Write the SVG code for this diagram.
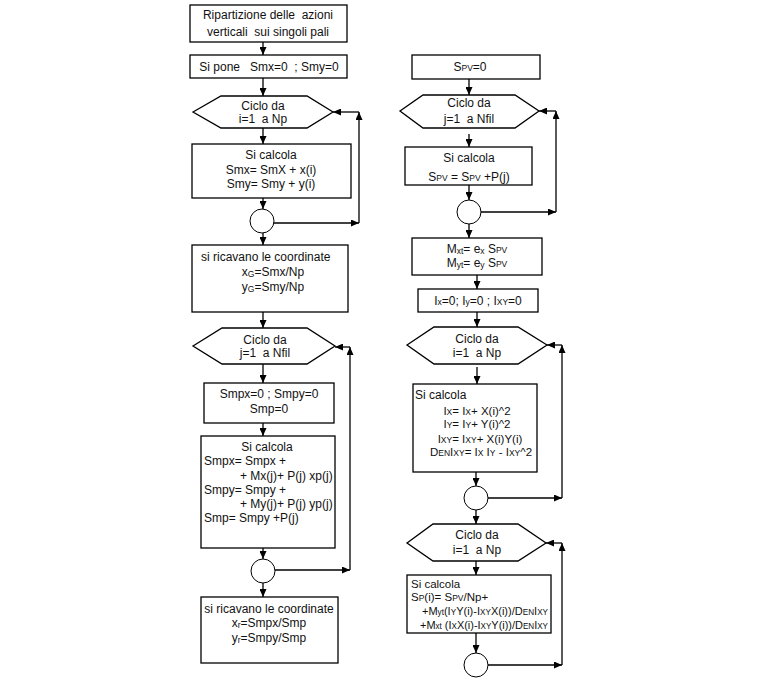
<svg xmlns="http://www.w3.org/2000/svg" width="782" height="689" viewBox="0 0 782 689" xml:space="preserve">
<defs>
<marker id="ah" markerUnits="userSpaceOnUse" markerWidth="8" markerHeight="7" refX="8" refY="3.5" orient="auto">
<path d="M0,0 L8,3.5 L0,7 z" fill="#000"/>
</marker>
<style>
.b{fill:#fff;stroke:#000;stroke-width:1.3}
.c{fill:#fff;stroke:#000;stroke-width:1}
.l{fill:none;stroke:#000;stroke-width:1.3;marker-end:url(#ah)}
text{font-family:"Liberation Sans",Arial,sans-serif;font-size:12px;fill:#111;white-space:pre}
.m{text-anchor:middle}
.s{font-size:8.5px}
.t{font-size:11.5px}
</style>
</defs>
<rect width="782" height="689" fill="#fff"/>
<g id="connectors">
<line class="l" x1="263" y1="42" x2="263" y2="55"/>
<line class="l" x1="263" y1="78" x2="263" y2="96"/>
<line class="l" x1="263" y1="128" x2="263" y2="144"/>
<line class="l" x1="263" y1="198" x2="263" y2="209"/>
<line class="l" x1="274" y1="223" x2="359" y2="223"/>
<line class="l" x1="359" y1="223" x2="359" y2="112"/>
<line class="l" x1="359" y1="112" x2="333" y2="112"/>
<line class="l" x1="263" y1="233" x2="263" y2="245"/>
<line class="l" x1="263" y1="312" x2="263" y2="328"/>
<line class="l" x1="263" y1="364" x2="263" y2="383"/>
<line class="l" x1="263" y1="423" x2="263" y2="436"/>
<line class="l" x1="263" y1="548" x2="263" y2="559"/>
<line class="l" x1="275" y1="570" x2="350" y2="570"/>
<line class="l" x1="350" y1="570" x2="350" y2="347"/>
<line class="l" x1="350" y1="347" x2="335" y2="347"/>
<line class="l" x1="263" y1="583" x2="263" y2="597"/>
<line class="l" x1="469" y1="79" x2="469" y2="95"/>
<line class="l" x1="469" y1="134" x2="469" y2="147"/>
<line class="l" x1="469" y1="185" x2="469" y2="200"/>
<line class="l" x1="481" y1="212" x2="556" y2="212"/>
<line class="l" x1="556" y1="212" x2="556" y2="111"/>
<line class="l" x1="556" y1="111" x2="539" y2="111"/>
<line class="l" x1="469" y1="224" x2="469" y2="238"/>
<line class="l" x1="477" y1="275" x2="477" y2="289"/>
<line class="l" x1="477" y1="312" x2="477" y2="327"/>
<line class="l" x1="477" y1="367" x2="477" y2="384"/>
<line class="l" x1="476" y1="472" x2="476" y2="486"/>
<line class="l" x1="488" y1="498" x2="562" y2="498"/>
<line class="l" x1="562" y1="498" x2="562" y2="345"/>
<line class="l" x1="562" y1="345" x2="547" y2="345"/>
<line class="l" x1="476" y1="510" x2="476" y2="524"/>
<line class="l" x1="476" y1="561" x2="476" y2="575"/>
<line class="l" x1="476" y1="633" x2="476" y2="653"/>
<line class="l" x1="488" y1="665" x2="562" y2="665"/>
<line class="l" x1="562" y1="665" x2="562" y2="543"/>
<line class="l" x1="562" y1="543" x2="546" y2="543"/>
</g>
<g id="n1"><rect class="b" x="190" y="5" width="157" height="37"/><text class="m" x="268" y="19">Ripartizione delle  azioni</text><text class="m" x="268" y="36">verticali  sui singoli pali</text></g>
<g id="n2"><rect class="b" x="190" y="55" width="157" height="23"/><text class="m" x="269" y="71">Si pone   Smx=0  ; Smy=0</text></g>
<g id="n3"><polygon class="b" points="193,112 221,96 307,96 333,112 307,128 221,128"/><text class="m" x="263" y="110">Ciclo da</text><text class="m" x="263" y="123">i=1  a Np</text></g>
<g id="n4"><rect class="b" x="192" y="144" width="159" height="54"/><text class="m" x="271" y="159">Si calcola</text><text class="m" x="271" y="174">Smx= SmX + x(i)</text><text class="m" x="271" y="188">Smy= Smy + y(i)</text></g>
<g id="n5"><circle class="c" cx="262" cy="221" r="12"/></g>
<g id="n6"><rect class="b" x="192" y="245" width="156" height="67"/><text x="201" y="261">si ricavano le coordinate</text><text class="m" x="273" y="276">x<tspan class="s" dy="1">G</tspan><tspan dy="-1">=Smx/Np</tspan></text><text class="m" x="273" y="291">y<tspan class="s" dy="1">G</tspan><tspan dy="-1">=Smy/Np</tspan></text></g>
<g id="n7"><polygon class="b" points="193,346 222,328 307,328 335,346 307,364 222,364"/><text class="m" x="265" y="344">Ciclo da</text><text class="m" x="265" y="357">j=1  a Nfil</text></g>
<g id="n8"><rect class="b" x="204" y="383" width="130" height="40"/><text class="m" x="269" y="398">Smpx=0 ; Smpy=0</text><text class="m" x="269" y="413">Smp=0</text></g>
<g id="n9"><rect class="b" x="201" y="436" width="134" height="112"/><text class="m" x="267" y="451">Si calcola</text><text x="204" y="465">Smpx= Smpx +</text><text x="240" y="480">+ Mx(j)+ P(j) xp(j)</text><text x="204" y="494">Smpy= Smpy +</text><text x="240" y="508">+ My(j)+ P(j) yp(j)</text><text x="204" y="522">Smp= Smpy +P(j)</text></g>
<g id="n10"><circle class="c" cx="263" cy="571" r="12"/></g>
<g id="n11"><rect class="b" x="201" y="597" width="137" height="66"/><text class="m" x="269" y="613">si ricavano le coordinate</text><text class="m" x="269" y="627">x<tspan class="s" dy="1">r</tspan><tspan dy="-1">=Smpx/Smp</tspan></text><text class="m" x="269" y="642">y<tspan class="s" dy="1">r</tspan><tspan dy="-1">=Smpy/Smp</tspan></text></g>
<g id="r1"><rect class="b" x="412" y="55" width="128" height="24"/><text class="m" x="470" y="71">S<tspan class="s">PV</tspan>=0</text></g>
<g id="r2"><polygon class="b" points="400,111 423,95 515,95 539,111 515,128 423,128"/><text class="m" x="469" y="107">Ciclo da</text><text class="m" x="469" y="123">j=1  a Nfil</text></g>
<g id="r3"><rect class="b" x="405" y="147" width="127" height="38"/><text class="m" x="469" y="162">Si calcola</text><text class="m" x="469" y="181">S<tspan class="s">PV</tspan> = S<tspan class="s">PV</tspan> +P(j)</text></g>
<g id="r4"><circle class="c" cx="469" cy="212" r="12"/></g>
<g id="r5"><rect class="b" x="412" y="238" width="130" height="37"/><text class="m" x="477" y="253">M<tspan class="s" dy="1">xt</tspan><tspan dy="-1">= e</tspan><tspan class="s" dy="1">x</tspan><tspan dy="-1"> S</tspan><tspan class="s">PV</tspan></text><text class="m" x="477" y="267">M<tspan class="s" dy="1">yt</tspan><tspan dy="-1">= e</tspan><tspan class="s" dy="1">y</tspan><tspan dy="-1"> S</tspan><tspan class="s">PV</tspan></text></g>
<g id="r6"><rect class="b" x="418" y="289" width="120" height="23"/><text class="m" x="478" y="305">I<tspan class="s">x</tspan>=0; I<tspan class="s">y</tspan>=0 ; I<tspan class="s">XY</tspan>=0</text></g>
<g id="r7"><polygon class="b" points="407,345 434,327 518,327 547,345 518,364 434,364"/><text class="m" x="477" y="343">Ciclo da</text><text class="m" x="477" y="357">i=1  a Np</text></g>
<g id="r8"><rect class="b" x="413" y="384" width="124" height="88"/><text x="415" y="399">Si calcola</text><text class="m t" x="477" y="415">I<tspan class="s">X</tspan>= I<tspan class="s">X</tspan>+ X(i)^2</text><text class="m t" x="477" y="428">I<tspan class="s">Y</tspan>= I<tspan class="s">Y</tspan>+ Y(i)^2</text><text class="m t" x="480" y="443">I<tspan class="s">XY</tspan>= I<tspan class="s">XY</tspan>+ X(i)Y(i)</text><text class="m t" x="481" y="456">D<tspan class="s">EN</tspan>I<tspan class="s">XY</tspan>= I<tspan class="s">X</tspan> I<tspan class="s">Y</tspan> - I<tspan class="s">XY</tspan>^2</text></g>
<g id="r9"><circle class="c" cx="476" cy="498" r="12"/></g>
<g id="r10"><polygon class="b" points="407,543 433,524 518,524 546,543 518,561 433,561"/><text class="m" x="477" y="539">Ciclo da</text><text class="m" x="477" y="554">i=1  a Np</text></g>
<g id="r11"><rect class="b" x="407" y="575" width="144" height="58"/><text class="t" x="411" y="588">Si calcola</text><text class="t" x="411" y="601">S<tspan class="s">P</tspan>(i)= S<tspan class="s">PV</tspan>/Np+</text><text class="t" x="422" y="615" textLength="126" lengthAdjust="spacingAndGlyphs">+M<tspan class="s">yt</tspan>(I<tspan class="s">Y</tspan>Y(i)-I<tspan class="s">XY</tspan>X(i))/D<tspan class="s">EN</tspan>I<tspan class="s">XY</tspan></text><text class="t" x="420" y="629" textLength="128" lengthAdjust="spacingAndGlyphs">+M<tspan class="s">xt</tspan> (I<tspan class="s">X</tspan>X(i)-I<tspan class="s">XY</tspan>Y(i))/D<tspan class="s">EN</tspan>I<tspan class="s">XY</tspan></text></g>
<g id="r12"><circle class="c" cx="476" cy="665" r="12"/></g>
</svg>
